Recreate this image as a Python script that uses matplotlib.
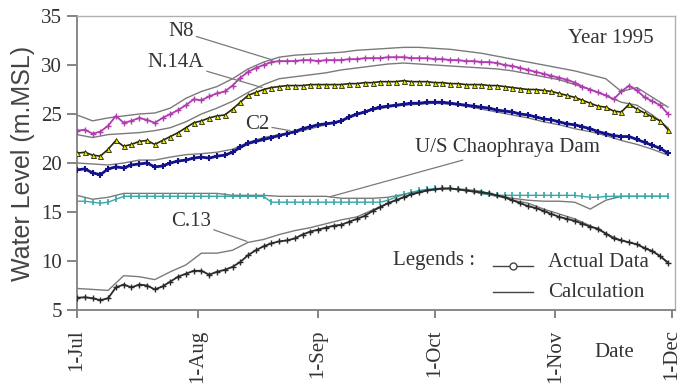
import numpy as np
import matplotlib
matplotlib.use("Agg")
import matplotlib.pyplot as plt

# water level (m.MSL), actual data every 2 days from 1-Jul-1995
act_days = np.arange(0, 153, 2)
# calculation every 4 days
calc_days = np.arange(0, 153, 4)

n8_act = [23.3, 23.4, 23.0, 23.2, 23.8, 24.8, 24.1, 24.3, 24.6, 24.4,
          24.1, 24.6, 25.0, 25.4, 25.9, 26.5, 26.4, 26.8, 27.1, 27.3,
          27.9, 28.7, 29.3, 29.7, 30.0, 30.3, 30.4, 30.4, 30.4, 30.5,
          30.5, 30.4, 30.5, 30.5, 30.5, 30.6, 30.6, 30.7, 30.7, 30.7,
          30.8, 30.8, 30.8, 30.7, 30.7, 30.7, 30.6, 30.6, 30.5, 30.5,
          30.4, 30.4, 30.3, 30.3, 30.2, 30.0, 29.9, 29.7, 29.5, 29.3,
          29.1, 28.9, 28.7, 28.5, 28.2, 27.8, 27.5, 27.2, 26.9, 26.5,
          27.3, 27.9, 27.4, 26.7, 26.3, 25.9, 25.0]
n8_calc = [24.9, 24.3, 24.6, 24.8, 25.0, 25.1, 25.6, 26.6, 27.3, 27.8,
           28.6, 29.6, 30.3, 30.8, 31.0, 31.1, 31.2, 31.3, 31.5, 31.6,
           31.7, 31.8, 31.8, 31.7, 31.6, 31.4, 31.2, 30.9, 30.6, 30.3,
           30.0, 29.7, 29.4, 29.0, 28.6, 27.3, 27.7, 26.7, 25.7]

n14a_act = [21.0, 21.1, 20.8, 20.7, 21.4, 22.3, 21.7, 21.9, 22.2, 22.3,
            21.9, 22.3, 22.7, 23.1, 23.6, 24.1, 24.3, 24.6, 24.8, 24.9,
            25.5, 26.2, 26.9, 27.2, 27.5, 27.7, 27.8, 27.9, 27.9, 27.9,
            28.0, 28.0, 28.0, 28.0, 28.0, 28.1, 28.1, 28.2, 28.2, 28.3,
            28.3, 28.3, 28.4, 28.3, 28.3, 28.3, 28.2, 28.2, 28.1, 28.1,
            28.0, 28.0, 28.0, 27.9, 27.9, 27.8, 27.7, 27.6, 27.5, 27.5,
            27.4, 27.3, 27.1, 26.9, 26.7, 26.4, 26.1, 25.8, 25.7, 25.3,
            25.2, 26.0, 25.5, 25.1, 24.7, 24.3, 23.4]
n14a_calc = [22.9, 22.6, 22.9, 23.0, 23.1, 23.3, 23.6, 24.2, 25.0, 25.6,
             26.3, 27.2, 28.0, 28.6, 28.8, 29.0, 29.2, 29.5, 29.7, 29.9,
             30.1, 30.2, 30.1, 30.0, 29.9, 29.8, 29.7, 29.6, 29.4, 29.1,
             28.8, 28.5, 28.0, 27.5, 26.9, 26.2, 25.9, 24.9, 23.6]

c2_act = [19.3, 19.4, 19.0, 18.8, 19.4, 19.6, 19.5, 19.8, 19.9, 20.0,
          19.6, 19.7, 20.0, 20.2, 20.3, 20.5, 20.6, 20.5, 20.7, 20.8,
          21.1, 21.6, 22.0, 22.2, 22.4, 22.6, 22.8, 23.0, 23.2, 23.5,
          23.7, 23.9, 24.0, 24.1, 24.3, 24.7, 25.0, 25.2, 25.5, 25.7,
          25.8, 25.9, 26.0, 26.1, 26.1, 26.2, 26.2, 26.2, 26.1, 26.0,
          25.9, 25.8, 25.7, 25.6, 25.4, 25.3, 25.2, 25.0, 24.9, 24.7,
          24.5, 24.4, 24.2, 24.0, 23.9, 23.7, 23.5, 23.2, 23.0, 22.8,
          22.7, 22.7, 22.4, 22.1, 21.8, 21.5, 21.0]
c2_calc = [20.0, 19.9, 19.8, 20.0, 20.3, 20.3, 20.6, 20.85, 20.95, 21.1,
           21.4, 22.1, 22.6, 22.9, 23.1, 23.5, 23.9, 24.3, 24.9, 25.4,
           25.7, 25.9, 26.0, 26.1, 26.0, 25.8, 25.5, 25.2, 24.9, 24.6,
           24.2, 23.9, 23.5, 23.2, 22.8, 22.3, 21.9, 21.4, 20.8]

dam_act = [16.1, 16.1, 16.0, 15.9, 16.0, 16.3, 16.6, 16.6, 16.6, 16.6,
           16.6, 16.6, 16.6, 16.6, 16.6, 16.6, 16.6, 16.6, 16.6, 16.6,
           16.6, 16.6, 16.6, 16.6, 16.6, 16.0, 16.0, 16.0, 16.0, 16.0,
           16.0, 16.0, 16.0, 16.0, 16.0, 16.0, 16.0, 16.0, 16.0, 16.0,
           16.2, 16.5, 16.8, 17.0, 17.2, 17.3, 17.4, 17.4, 17.4, 17.3,
           17.2, 17.1, 16.9, 16.8, 16.7, 16.7, 16.7, 16.7, 16.7, 16.7,
           16.7, 16.7, 16.7, 16.7, 16.7, 16.6, 16.5, 16.5, 16.6, 16.6,
           16.6, 16.6, 16.6, 16.6, 16.6, 16.6, 16.6]
dam_calc = [16.7, 16.3, 16.5, 16.9, 16.9, 16.9, 16.9, 16.9, 16.9, 16.9,
            16.7, 16.7, 16.7, 16.6, 16.6, 16.6, 16.6, 16.4, 16.4, 16.4,
            16.5, 16.8, 17.1, 17.35, 17.4, 17.2, 16.9, 16.6, 16.4, 16.2,
            16.1, 16.1, 16.0, 15.3, 16.2, 16.6, 16.6, 16.6, 16.6]

c13_act = [6.25, 6.3, 6.2, 6.0, 6.2, 7.3, 7.6, 7.3, 7.6, 7.5,
           7.1, 7.4, 7.9, 8.4, 8.7, 9.0, 9.0, 8.6, 8.9, 9.1,
           9.4, 9.9, 10.6, 11.1, 11.5, 11.8, 12.0, 12.1, 12.3, 12.7,
           13.0, 13.2, 13.4, 13.6, 13.7, 14.0, 14.3, 14.6, 15.1, 15.5,
           15.9, 16.2, 16.5, 16.8, 17.0, 17.2, 17.3, 17.4, 17.4, 17.3,
           17.2, 17.1, 17.0, 16.9, 16.7, 16.5, 16.2, 15.9, 15.6, 15.4,
           15.1, 14.8, 14.5, 14.3, 14.1, 13.8, 13.5, 13.3, 12.8, 12.3,
           12.1, 11.9, 11.7, 11.3, 11.0, 10.5, 9.8]
c13_calc = [7.2, 7.1, 7.0, 8.5, 8.4, 8.1, 8.9, 9.6, 10.8, 10.8,
            11.1, 11.9, 12.2, 12.7, 13.1, 13.4, 13.8, 14.2, 14.5, 15.2,
            15.9, 16.5, 17.0, 17.3, 17.4, 17.3, 17.1, 16.7, 16.2, 15.9,
            15.3, 14.8, 14.3, 13.6, 12.8, 12.1, 11.7, 11.0, 9.9]

tick_days = [0, 31, 62, 92, 123, 153]
tick_labels = ['1-Jul', '1-Aug', '1-Sep', '1-Oct', '1-Nov', '1-Dec']

serif = 'Liberation Serif'
txt = '#333333'
calc_col = '#7a7a7a'

fig = plt.figure(figsize=(6.77, 3.92), dpi=100)
ax = fig.add_axes([77/677, 1 - 310/392, 598/677, 294/392])

# calculation lines
for vals in [n8_calc, n14a_calc, c2_calc, dam_calc, c13_calc]:
    ax.plot(calc_days, vals, color=calc_col, lw=1.0, zorder=2)

# actual data
ax.plot(act_days, n8_act, color='#b03cb0', lw=1.3, marker='+', ms=4, mew=1.0, zorder=3)
ax.plot(act_days, n14a_act, color='#2a2a00', lw=1.2, marker='^', ms=3.6,
        mfc='#e8e800', mec='#222200', mew=0.6, zorder=3)
ax.plot(act_days, c2_act, color='#12128a', lw=2.0, marker='+', ms=5, mew=1.5, zorder=3)
ax.plot(act_days, dam_act, color='#3aa6a6', lw=1.0, marker='|', ms=5, mew=1.2, zorder=3)
ax.plot(act_days, c13_act, color='#2a2a2a', lw=1.3, marker='+', ms=4, mew=1.0, zorder=3)

ax.set_xlim(0, 153.8)
ax.set_ylim(5, 35)
ax.set_yticks([5, 10, 15, 20, 25, 30, 35])
ax.set_xticks(tick_days)
ax.set_xticklabels(tick_labels, rotation=90)

for lab in ax.get_xticklabels() + ax.get_yticklabels():
    lab.set_family(serif)
    lab.set_fontsize(15)
    lab.set_color(txt)
ax.tick_params(axis='x', direction='out', length=6, width=1.2, color='#707070', pad=8)
ax.tick_params(axis='y', direction='out', length=7, width=1.2, color='#707070', pad=4)

for s in ['left', 'bottom']:
    ax.spines[s].set_color('#808080')
    ax.spines[s].set_linewidth(1.3)
for s in ['top', 'right']:
    ax.spines[s].set_color('#b0b0b0')
    ax.spines[s].set_linewidth(1.0)

ax.set_ylabel('Water Level (m.MSL)', family='Liberation Sans', fontsize=18,
              color='#444444', labelpad=4)

# station labels with leader lines
lead = dict(arrowstyle='-', color=calc_col, lw=0.9, shrinkA=0, shrinkB=0)
tk = dict(family=serif, fontsize=15, color=txt)
ax.annotate('N8', xy=(50.4, 30.5), xytext=(26.7, 33.4), ha='center', va='center',
            arrowprops=lead, **tk)
ax.annotate('N.14A', xy=(47.6, 27.7), xytext=(25.4, 30.3), ha='center', va='center',
            arrowprops=lead, **tk)
ax.annotate('C2', xy=(54.8, 23.3), xytext=(46.3, 23.9), ha='center', va='center',
            arrowprops=lead, **tk)
ax.annotate('U/S Chaophraya Dam', xy=(65, 16.55), xytext=(86.9, 21.55), ha='left',
            va='center', arrowprops=lead, **tk)
ax.annotate('C.13', xy=(43.7, 12.0), xytext=(29.3, 14.0), ha='center', va='center',
            arrowprops=lead, **tk)

ax.text(0.893, 0.925, 'Year 1995', transform=ax.transAxes, ha='center', va='center', **tk)
ax.text(0.898, -0.143, 'Date', transform=ax.transAxes, ha='center', va='center',
        clip_on=False, **tk)

# legend
ax.text(0.666, 0.170, 'Legends :', transform=ax.transAxes, ha='right', va='center', **tk)
ax.plot([0.696, 0.763], [0.150, 0.150], transform=ax.transAxes, color='#444444', lw=1.0)
ax.plot([0.7295], [0.150], transform=ax.transAxes, marker='o', ms=5, mfc='white',
        mec='#444444', mew=1.0)
ax.text(0.788, 0.163, 'Actual Data', transform=ax.transAxes, ha='left', va='center', **tk)
ax.plot([0.696, 0.763], [0.061, 0.061], transform=ax.transAxes, color='#444444', lw=1.0)
ax.text(0.788, 0.058, 'Calculation', transform=ax.transAxes, ha='left', va='center', **tk)

fig.savefig('out.png', dpi=100)
